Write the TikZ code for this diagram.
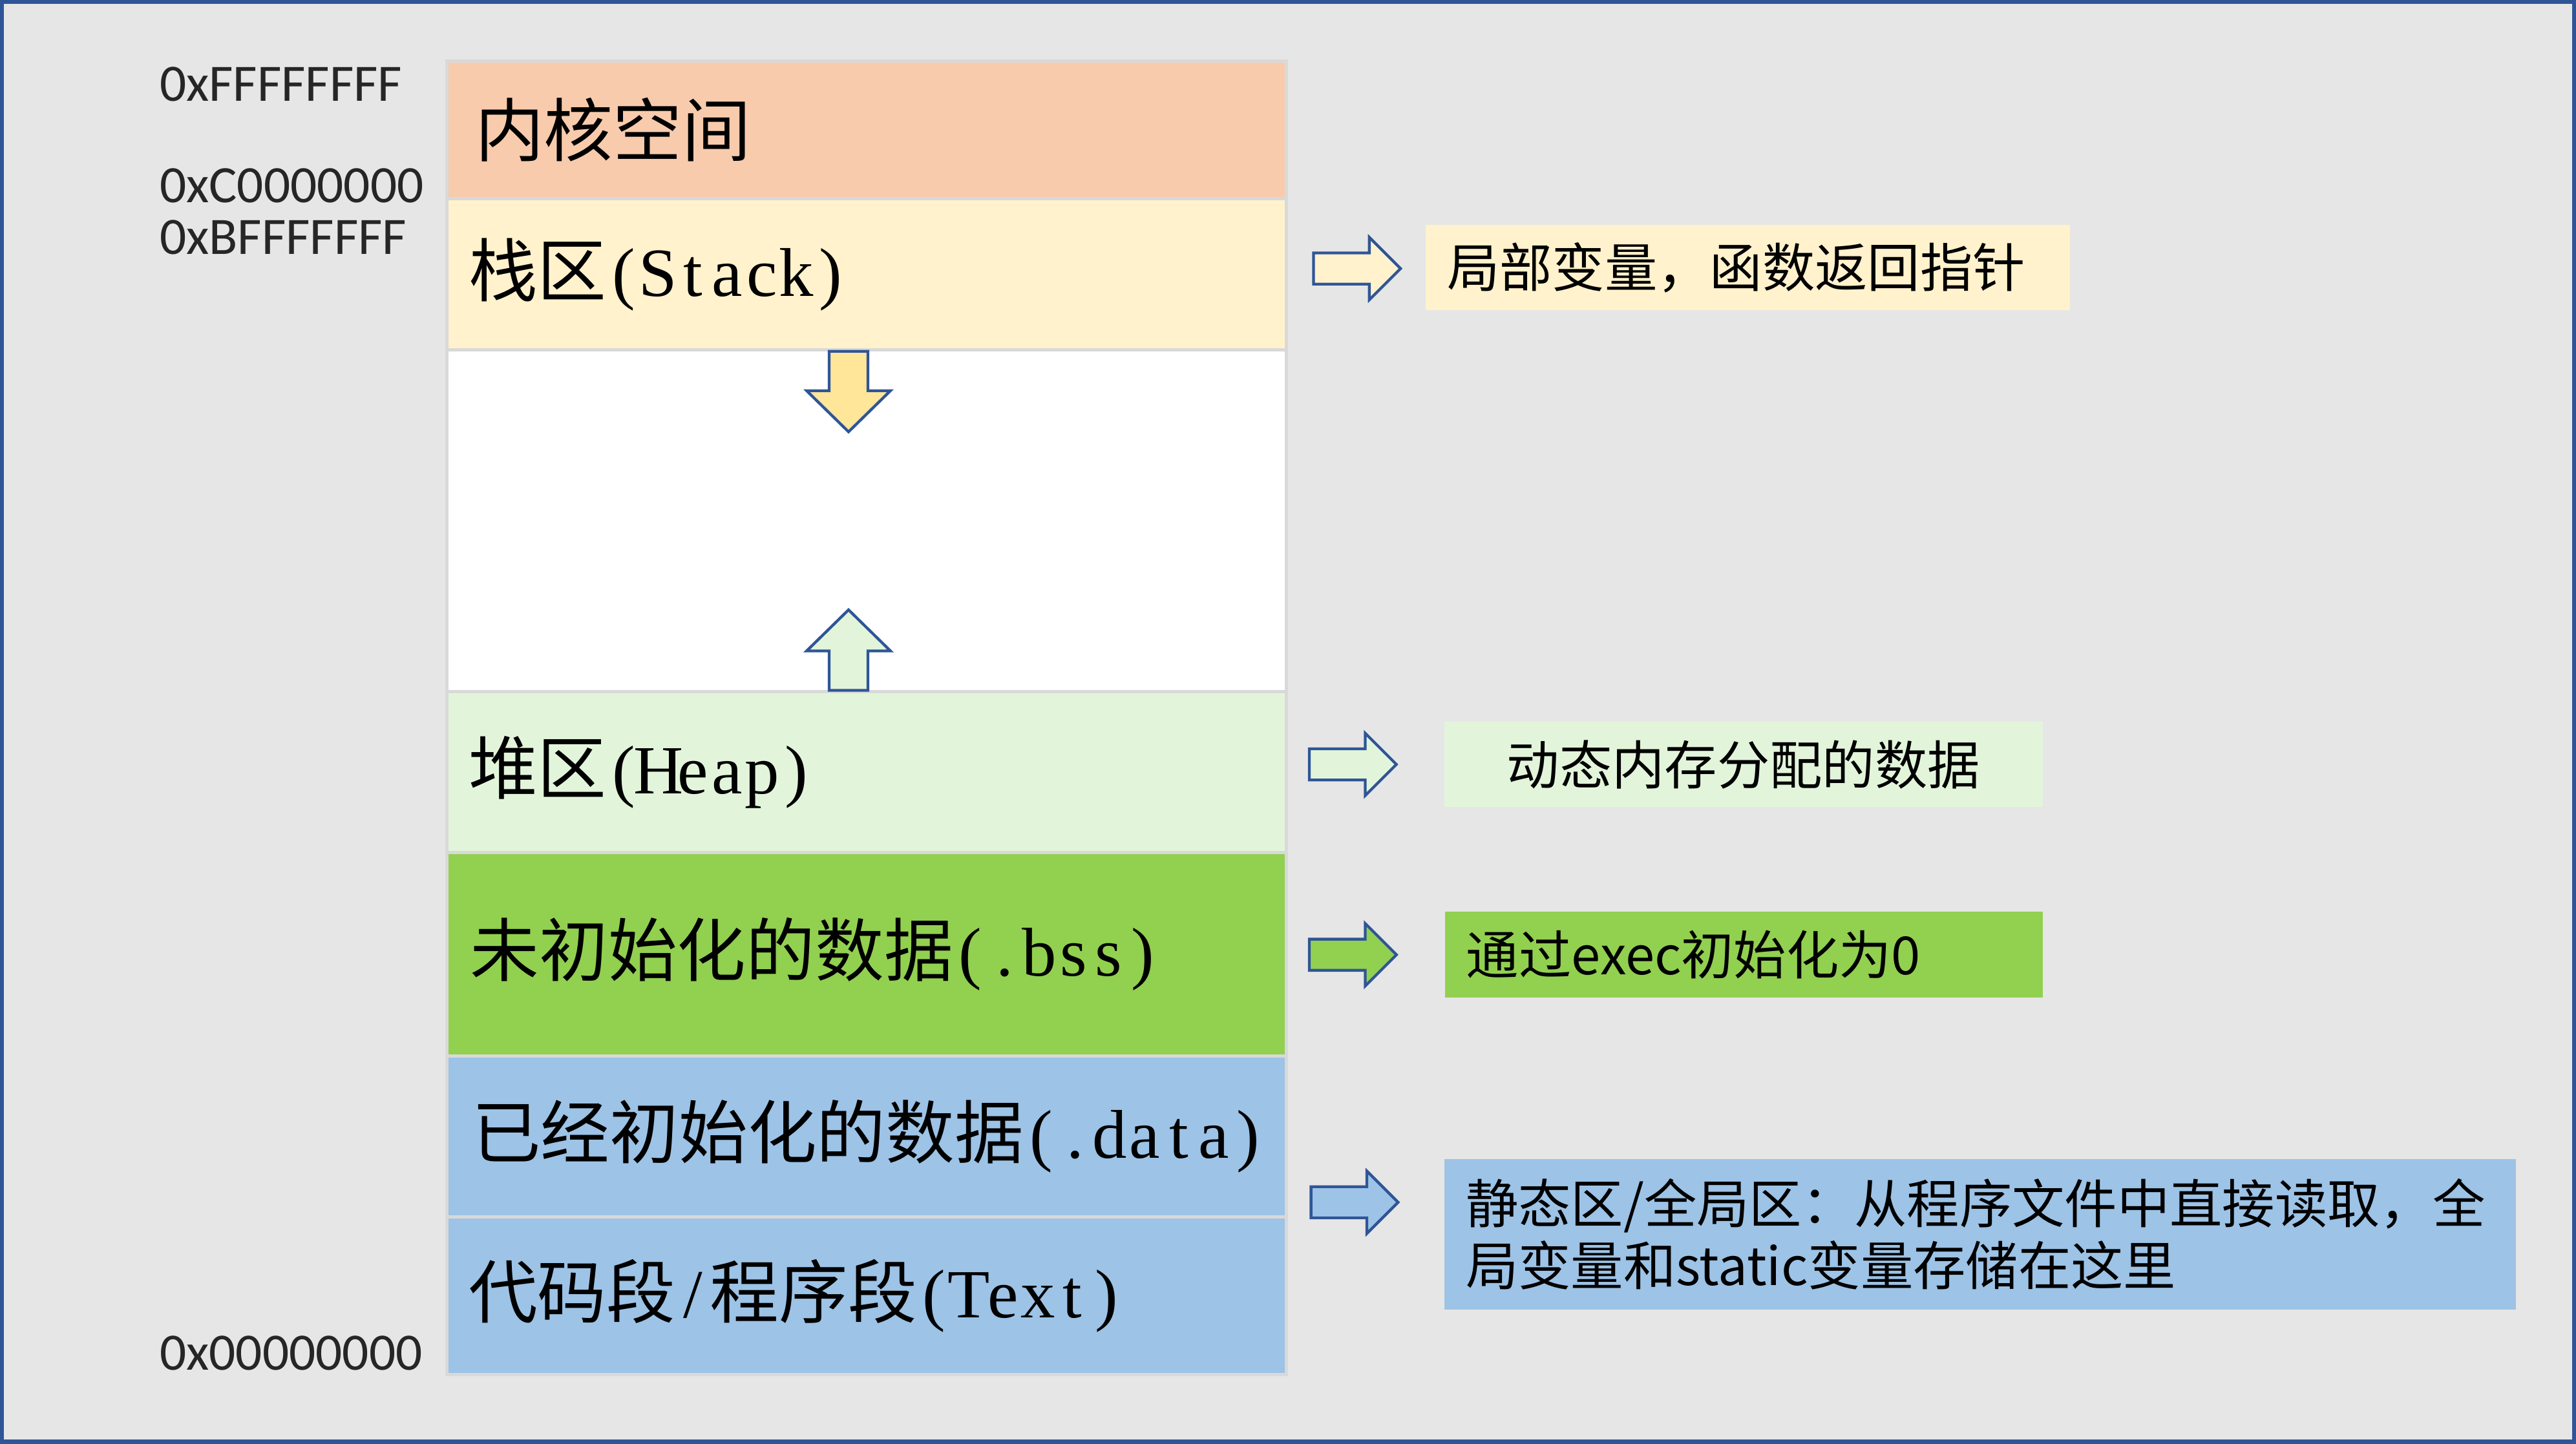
\documentclass[tikz,border=0pt]{standalone}
\usepackage{fontspec}
\setmainfont{Liberation Serif}
\newfontfamily\cjk{Noto Sans CJK SC}
\newfontfamily\addrfont{Carlito}
\usepackage{xcolor}
\definecolor{slidebg}{HTML}{E7E6E6}
\definecolor{slideframe}{HTML}{2F5597}
\definecolor{cellgray}{HTML}{D9D9D9}
\definecolor{kernfill}{HTML}{F8CBAD}
\definecolor{stackfill}{HTML}{FFF2CC}
\definecolor{growfill}{HTML}{FFE699}
\definecolor{heapfill}{HTML}{E2F5DB}
\definecolor{bssfill}{HTML}{92D050}
\definecolor{datafill}{HTML}{9DC3E6}
\usepackage{tikz}
\usetikzlibrary{positioning}
\makeatletter
\newcommand{\halfw}[1]{\@tfor\hwch:=#1\do{\makebox[0.5em]{\hwch}}}
\makeatother
\newcommand{\lat}[1]{{\rmfamily\halfw{#1}}}
\tikzset{
  every picture/.style={line join=miter},
  seg/.style={draw=cellgray, line width=2pt, minimum width=511, inner sep=0pt, outer sep=0pt},
  seglbl/.style={font=\cjk\fontsize{42}{50}\selectfont, anchor=west, inner sep=0pt},
  addr/.style={font=\addrfont\fontsize{32}{38}\selectfont, anchor=base west, inner sep=0pt, text=black!85},
  note/.style={font=\cjk\fontsize{32}{38}\selectfont, inner sep=0pt, inner xsep=13pt, text=black},
  blockarrow/.style={draw=slideframe, line width=1.7pt},
}

\begin{document}
\begin{tikzpicture}[x=1pt, y=-1pt,
  rarrow/.pic={\draw[blockarrow, pic actions] (0,-9.5) -- (34,-9.5) -- (34,-19) -- (53,0)
    -- (34,19) -- (34,9.5) -- (0,9.5) -- cycle;},
  darrow/.pic={\draw[blockarrow, pic actions] (-11.8,0) -- (11.8,0) -- (11.8,24) -- (25.5,24)
    -- (0,49) -- (-25.5,24) -- (-11.8,24) -- cycle;},
]
\useasboundingbox (0,0) rectangle (1568,879);
\fill[slidebg] (0,0) rectangle (1568,879);
\draw[slideframe, line width=2.4pt] (1.2,1.2) rectangle (1566.8,877.8);

% memory column
\node[seg, fill=kernfill, minimum height=84, anchor=north west] (kern) at (272,37) {};
\node[seg, fill=stackfill, minimum height=92, below=0pt of kern] (stack) {};
\node[seg, fill=white, minimum height=208, below=0pt of stack] (gap) {};
\node[seg, fill=heapfill, minimum height=98, below=0pt of gap] (heap) {};
\node[seg, fill=bssfill, minimum height=124, below=0pt of heap] (bss) {};
\node[seg, fill=datafill, minimum height=98, below=0pt of bss] (data) {};
\node[seg, fill=datafill, minimum height=96, below=0pt of data] (text) {};

\node[seglbl] (lkern) at ([xshift=17pt]kern.west) {内核空间};
\node[seglbl] (lstack) at ([xshift=13pt]stack.west) {栈区\lat{(Stack)}};
\node[seglbl] (lheap) at ([xshift=13pt]heap.west) {堆区\lat{(Heap)}};
\node[seglbl] (lbss) at ([xshift=14pt]bss.west) {未初始化的数据\lat{(.bss)}};
\node[seglbl] (ldata) at ([xshift=15pt]data.west) {已经初始化的数据\lat{(.data)}};
\node[seglbl] (ltext) at ([xshift=13pt]text.west) {代码段\lat{/}程序段\lat{(Text)}};

\pic[fill=growfill] at (516.5,213.9) {darrow};
\pic[fill=heapfill, rotate=180] at (516.5,420.3) {darrow};

% addresses
\node[addr] (aF) at (97,61.4) {0xFFFFFFFF};
\node[addr] (aC) at (97,123.5) {0xC0000000};
\node[addr] (aB) at (97,154.7) {0xBFFFFFFF};
\node[addr] (a0) at (97,834) {0x00000000};

% notes
\node[note, fill=stackfill, text width=366, align=left, minimum height=52, anchor=west] (nstack)
  at (867.6,163) {局部变量，函数返回指针};
\node[note, fill=heapfill, text width=338, align=center, minimum height=52] (nheap)
  at (1061.3,465.4) {动态内存分配的数据};
\node[note, fill=bssfill, text width=338, align=left, minimum height=52, anchor=west] (nbss)
  at (879.3,581.2) {通过exec初始化为0};
\node[note, fill=datafill, text width=626, align=left, minimum height=91.5] (nstatic)
  at (1205.2,751.5) {静态区/全局区：从程序文件中直接读取，全\\局变量和static变量存储在这里};

\pic[fill=stackfill] at (799.5,163.5) {rarrow};
\pic[fill=heapfill] at (797,465.4) {rarrow};
\pic[fill=bssfill] at (797,581.3) {rarrow};
\pic[fill=datafill] at (798,732) {rarrow};
\end{tikzpicture}
\end{document}
